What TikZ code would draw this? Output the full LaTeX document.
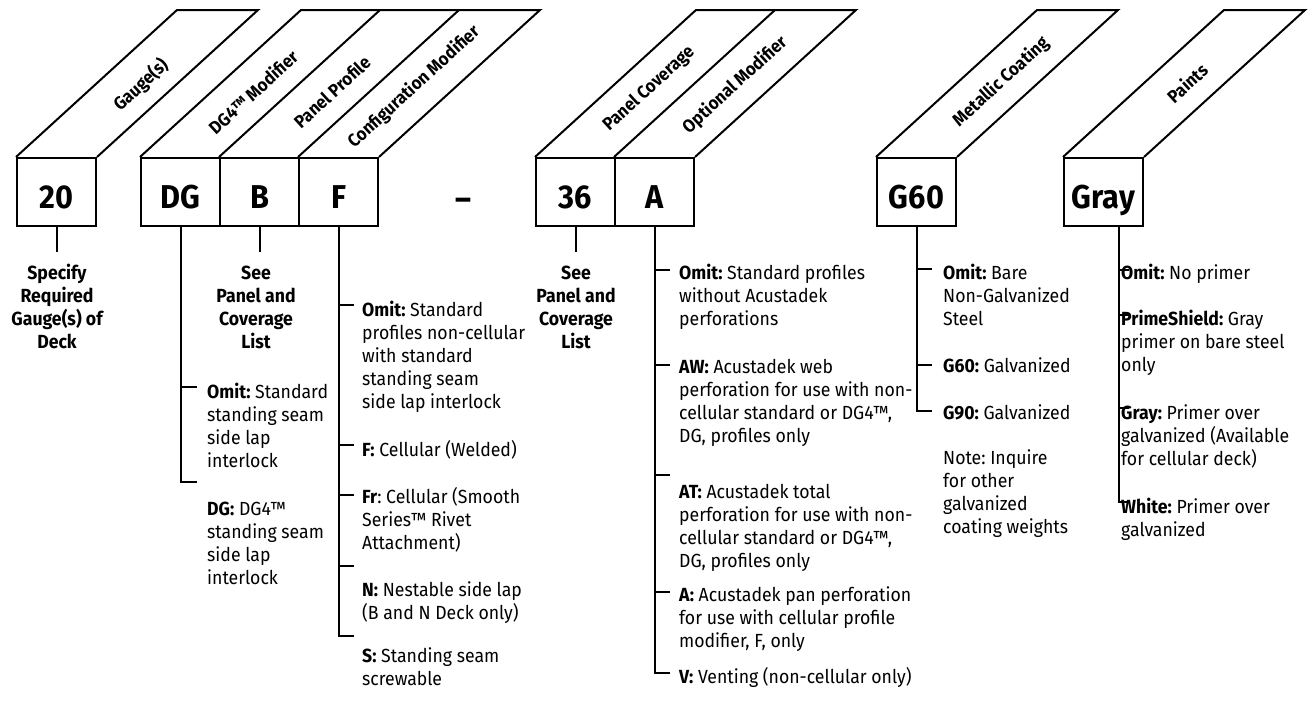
\documentclass[tikz,border=0pt]{standalone}
\usepackage{fontspec}
\setmainfont{Fira Sans}[FakeStretch=0.93]
\usetikzlibrary{calc}
\frenchspacing
\begin{document}
\frenchspacing
\begin{tikzpicture}[x=1pt,y=-1pt,
  ln/.style={line width=2pt},
  cbox/.style={draw, line width=2pt, minimum width=79pt, minimum height=68pt, inner sep=0pt, anchor=north west, text height=32pt, text depth=0pt, font=\bfseries\fontsize{33}{36}\selectfont},
  hdr/.style={rotate=42.4, inner sep=0pt, font=\bfseries\fontsize{18}{20}\selectfont},
  desc/.style={anchor=base west, inner sep=0pt, font=\fontsize{19}{23}\selectfont},
  bdesc/.style={anchor=base, inner sep=0pt, font=\bfseries\fontsize{19}{23}\selectfont}]
\useasboundingbox (0,0) rectangle (1311,704);
% code boxes
\node[cbox] (g20) at (16,157) {20};
\node[cbox] (dg) at (140,157) {DG};
\node[cbox] (b) at (219,157) {B};
\node[cbox] (f) at (298,157) {F};
\node[cbox] (n36) at (535,157) {36};
\node[cbox] (a) at (614,157) {A};
\node[cbox] (g60) at (876,157) {G60};
\node[cbox] (gray) at (1063,157) {Gray};
\node[inner sep=0pt, font=\bfseries\fontsize{33}{36}\selectfont] (dash) at (463,204) {–};
% parallelograms
\draw[ln] (g20.north west) -- ++(161,-147) -- ($(g20.north east)+(161,-147)$) -- (g20.north east);
\draw[ln] (dg.north west) -- ++(161,-147) -- ($(f.north east)+(161,-147)$) -- (f.north east);
\draw[ln] (b.north west) -- ++(161,-147);
\draw[ln] (f.north west) -- ++(161,-147);
\draw[ln] (n36.north west) -- ++(161,-147) -- ($(a.north east)+(161,-147)$) -- (a.north east);
\draw[ln] (a.north west) -- ++(161,-147);
\draw[ln] (g60.north west) -- ++(161,-147) -- ($(g60.north east)+(161,-147)$) -- (g60.north east);
\draw[ln] (gray.north west) -- ++(161,-147) -- ($(gray.north east)+(161,-147)$) -- (gray.north east);
% headers
\node[hdr] (h1) at (141,85) {Gauge(s)};
\node[hdr] (h2) at (253,92) {DG4™ Modifier};
\node[hdr] (h3) at (332,92) {Panel Profile};
\node[hdr] (h4) at (414,87) {Configuration Modifier};
\node[hdr] (h5) at (649,89) {Panel Coverage};
\node[hdr] (h6) at (735,85) {Optional Modifier};
\node[hdr] (h7) at (1001,82) {Metallic Coating};
\node[hdr] (h8) at (1187,83) {Paints};
% gauge
\coordinate (e20) at (56,252);
\draw[ln] (g20.south) -- (e20 -| g20.south);
\node[bdesc] (t20) at (57,279) {\begin{tabular}[t]{@{}c@{}}Specify\\Required\\Gauge(s) of\\Deck\end{tabular}};
% B
\draw[ln] (b.south) -- (e20 -| b.south);
\node[bdesc] (tb) at (256,279) {\begin{tabular}[t]{@{}c@{}}See\\Panel and\\Coverage\\List\end{tabular}};
% 36
\draw[ln] (n36.south) -- (e20 -| n36.south);
\node[bdesc] (t36) at (576,279) {\begin{tabular}[t]{@{}c@{}}See\\Panel and\\Coverage\\List\end{tabular}};
% DG column
\coordinate (dk1) at (197,387);
\coordinate (dk2) at (197,482);
\draw[ln] (dg.south) |- (dk2);
\draw[ln] (dk1 -| dg.south) -- (dk1);
\node[desc] (dt1) at (207,398) {\begin{tabular}[t]{@{}l@{}}\textbf{Omit:} Standard\\standing seam\\side lap\\interlock\end{tabular}};
\node[desc] (dt2) at (207,515) {\begin{tabular}[t]{@{}l@{}}\textbf{DG:} DG4™\\standing seam\\side lap\\interlock\end{tabular}};
% F column
\coordinate (fk1) at (354,305);
\coordinate (fk2) at (354,445);
\coordinate (fk3) at (354,495);
\coordinate (fk4) at (354,566);
\coordinate (fk5) at (354,636);
\draw[ln] (f.south) |- (fk5);
\foreach \k in {fk1,fk2,fk3,fk4} \draw[ln] (\k -| f.south) -- (\k);
\node[desc] (ft1) at (362,316) {\begin{tabular}[t]{@{}l@{}}\textbf{Omit:} Standard\\profiles non-cellular\\with standard\\standing seam\\side lap interlock\end{tabular}};
\node[desc] (ft2) at (362,456) {\textbf{F:} Cellular (Welded)};
\node[desc] (ft3) at (362,503) {\begin{tabular}[t]{@{}l@{}}\textbf{Fr}: Cellular (Smooth\\Series™ Rivet\\Attachment)\end{tabular}};
\node[desc] (ft4) at (362,596) {\begin{tabular}[t]{@{}l@{}}\textbf{N:} Nestable side lap\\(B and N Deck only)\end{tabular}};
\node[desc] (ft5) at (362,662) {\begin{tabular}[t]{@{}l@{}}\textbf{S:} Standing seam\\screwable\end{tabular}};
% A column
\coordinate (ak1) at (670,270);
\coordinate (ak2) at (670,365);
\coordinate (ak3) at (670,475);
\coordinate (ak4) at (670,592);
\coordinate (ak5) at (670,673);
\draw[ln] (a.south) |- (ak5);
\foreach \k in {ak1,ak2,ak3,ak4} \draw[ln] (\k -| a.south) -- (\k);
\node[desc] (at1) at (679,279) {\begin{tabular}[t]{@{}l@{}}\textbf{Omit:} Standard profiles\\without Acustadek\\perforations\end{tabular}};
\node[desc] (at2) at (679,373) {\begin{tabular}[t]{@{}l@{}}\textbf{AW:} Acustadek web\\perforation for use with non-\\cellular standard or DG4™,\\DG, profiles only\end{tabular}};
\node[desc] (at3) at (679,498) {\begin{tabular}[t]{@{}l@{}}\textbf{AT:} Acustadek total\\perforation for use with non-\\cellular standard or DG4™,\\DG, profiles only\end{tabular}};
\node[desc] (at4) at (679,601) {\begin{tabular}[t]{@{}l@{}}\textbf{A:} Acustadek pan perforation\\for use with cellular profile\\modifier, F, only\end{tabular}};
\node[desc] (at5) at (679,683) {\textbf{V:} Venting (non-cellular only)};
% G60 column
\coordinate (gk1) at (932,269);
\coordinate (gk2) at (932,365);
\coordinate (gk3) at (932,411);
\draw[ln] (g60.south) |- (gk3);
\foreach \k in {gk1,gk2} \draw[ln] (\k -| g60.south) -- (\k);
\node[desc] (gt1) at (943,279) {\begin{tabular}[t]{@{}l@{}}\textbf{Omit:} Bare\\Non-Galvanized\\Steel\end{tabular}};
\node[desc] (gt2) at (943,372) {\textbf{G60:} Galvanized};
\node[desc] (gt3) at (943,419) {\textbf{G90:} Galvanized};
\node[desc] (gt4) at (943,464) {\begin{tabular}[t]{@{}l@{}}Note: Inquire\\for other\\galvanized\\coating weights\end{tabular}};
% Paints column
\coordinate (pl) at ([xshift=15pt]gray.south);
\coordinate (pk1) at (1129,270);
\coordinate (pk2) at (1129,315);
\coordinate (pk3) at (1129,408);
\coordinate (pk4) at (1129,502);
\draw[ln] (pl) |- (pk4);
\foreach \k in {pk1,pk2,pk3} \draw[ln] (\k -| pl) -- (\k);
\node[desc] (pt1) at (1121,279) {\textbf{Omit:} No primer};
\node[desc] (pt2) at (1121,325) {\begin{tabular}[t]{@{}l@{}}\textbf{PrimeShield:} Gray\\primer on bare steel\\only\end{tabular}};
\node[desc] (pt3) at (1121,419) {\begin{tabular}[t]{@{}l@{}}\textbf{Gray:} Primer over\\galvanized (Available\\for cellular deck)\end{tabular}};
\node[desc] (pt4) at (1121,513) {\begin{tabular}[t]{@{}l@{}}\textbf{White:} Primer over\\galvanized\end{tabular}};
\end{tikzpicture}
\end{document}
